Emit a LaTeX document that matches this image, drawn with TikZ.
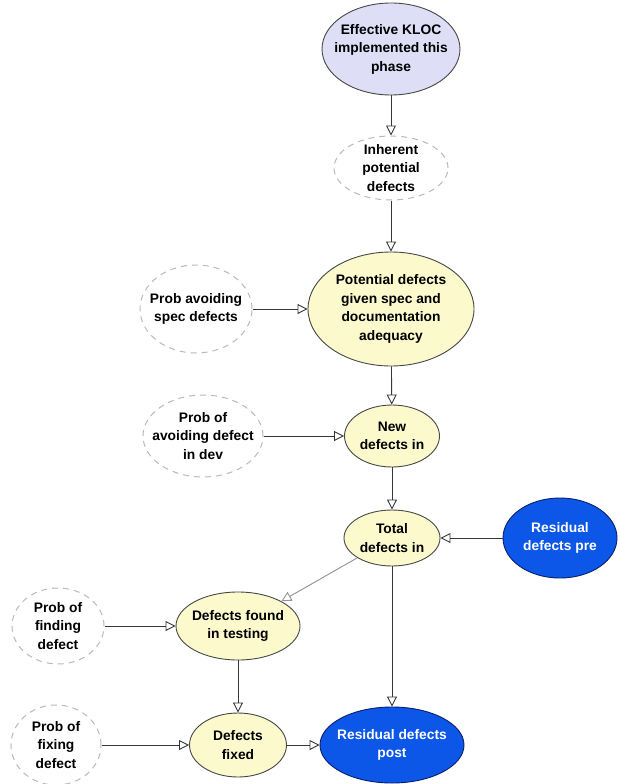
\documentclass[tikz,border=0pt]{standalone}
\usepackage{fontspec}
\setmainfont{Liberation Sans}
\usetikzlibrary{shapes.geometric,arrows.meta}
\definecolor{lavfill}{RGB}{222,222,247}
\definecolor{yelfill}{RGB}{252,250,205}
\definecolor{bluefill}{RGB}{12,86,232}
\definecolor{bluedraw}{RGB}{10,30,110}
\definecolor{nodedraw}{RGB}{70,70,70}
\definecolor{dashdraw}{RGB}{185,185,185}
\definecolor{linecol}{RGB}{55,55,55}
\tikzset{
  x=1pt, y=1pt,
  % the ellipse keeps its given size; the text sits in a centred label
  base/.style={ellipse, inner sep=0pt},
  txt/.style={inner sep=0pt, align=center,
    font=\bfseries\fontsize{13.8}{18.5}\selectfont},
  wtxt/.style={txt, text=white},
  lavnode/.style={base, draw=nodedraw, line width=0.9pt, fill=lavfill},
  yelnode/.style={base, draw=nodedraw, line width=0.9pt, fill=yelfill},
  bluenode/.style={base, draw=bluedraw, line width=0.9pt, fill=bluefill},
  dashnode/.style={base, draw=dashdraw, line width=1pt, dash pattern=on 6pt off 5pt},
  link/.style={draw=linecol, line width=0.9pt,
    -{Triangle[open, length=10pt, width=10pt, line width=0.9pt]}},
  softlink/.style={link, draw=gray!85}
}
\begin{document}
\begin{tikzpicture}
\useasboundingbox (0,0) rectangle (619,-784);

% nodes
\node[lavnode, minimum width=138pt, minimum height=92pt,
  label={[txt]center:{Effective KLOC\\implemented this\\phase}}] (kloc) at (391,-49) {};
\node[dashnode, minimum width=114pt, minimum height=64pt,
  label={[txt]center:{Inherent\\potential\\defects}}] (inh) at (391,-168) {};
\node[yelnode, minimum width=166pt, minimum height=114pt,
  label={[txt]center:{Potential defects\\given spec and\\documentation\\adequacy}}] (pot) at (391,-309) {};
\node[dashnode, minimum width=112pt, minimum height=88pt,
  label={[txt]center:{Prob avoiding\\spec defects}}] (pspec) at (196,-309) {};
\node[dashnode, minimum width=120pt, minimum height=82pt,
  label={[txt]center:{Prob of\\avoiding defect\\in dev}}] (pdev) at (203,-436) {};
\node[yelnode, minimum width=95pt, minimum height=62pt,
  label={[txt]center:{New\\defects in}}] (new) at (392,-436) {};
\node[yelnode, minimum width=96pt, minimum height=56pt,
  label={[txt]center:{Total\\defects in}}] (tot) at (392,-538) {};
\node[bluenode, minimum width=114pt, minimum height=80pt,
  label={[wtxt]center:{Residual\\defects pre}}] (rpre) at (560,-538) {};
\node[yelnode, minimum width=124pt, minimum height=68pt,
  label={[txt]center:{Defects found\\in testing}}] (found) at (238,-626) {};
\node[dashnode, minimum width=92pt, minimum height=76pt,
  label={[txt]center:{Prob of\\finding\\defect}}] (pfind) at (58,-626) {};
\node[yelnode, minimum width=97pt, minimum height=64pt,
  label={[txt]center:{Defects\\fixed}}] (fixed) at (238,-745) {};
\node[dashnode, minimum width=90pt, minimum height=80pt,
  label={[txt]center:{Prob of\\fixing\\defect}}] (pfix) at (56,-745) {};
\node[bluenode, minimum width=144pt, minimum height=76pt,
  label={[wtxt]center:{Residual defects\\post}}] (rpost) at (392,-745) {};

% connectors
\draw[link] (kloc) -- (inh);
\draw[link] (inh) -- (pot);
\draw[link] (pspec) -- (pot);
\draw[link] (pot) -- (new);
\draw[link] (pdev) -- (new);
\draw[link] (new) -- (tot);
\draw[link] (rpre) -- (tot);
\draw[softlink] (tot) -- (found);
\draw[link] (pfind) -- (found);
\draw[link] (found) -- (fixed);
\draw[link] (pfix) -- (fixed);
\draw[link] (fixed) -- (rpost);
\draw[link] (tot) -- (rpost);
\end{tikzpicture}
\end{document}
